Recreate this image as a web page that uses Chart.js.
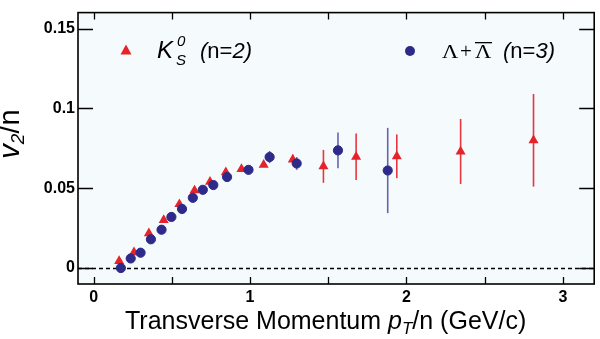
<!DOCTYPE html>
<html>
<head>
<meta charset="utf-8">
<script src="https://cdn.jsdelivr.net/npm/chart.js@4/dist/chart.umd.min.js"></script>
<style>
  html, body { margin: 0; padding: 0; background: #fff; }
  #wrap { width: 600px; height: 339px; }
</style>
</head>
<body>
<div id="wrap"><canvas id="v2Chart"></canvas></div>
<script>
// K0S (n=2) values
const kx = [0.163, 0.258, 0.353, 0.448, 0.548, 0.645, 0.744, 0.845, 0.945, 1.087, 1.273, 1.469, 1.678, 1.938, 2.346, 2.812];
const ky = [0.0044, 0.0099, 0.0217, 0.030, 0.040, 0.0486, 0.054, 0.060, 0.062, 0.0647, 0.068, 0.0637, 0.0697, 0.070, 0.073, 0.080];
const kErr = [0.001, 0.001, 0.001, 0.001, 0.001, 0.001, 0.001, 0.001, 0.001, 0.0015, 0.003, 0.0103, 0.0145, 0.0137, 0.0204, 0.029];

// Lambda + anti-Lambda (n=3)
const lx = [0.174, 0.237, 0.300, 0.366, 0.434, 0.497, 0.565, 0.634, 0.698, 0.765, 0.853, 0.99, 1.125, 1.298, 1.562, 1.88];
const ly = [0.000, 0.006, 0.0096, 0.018, 0.024, 0.032, 0.037, 0.044, 0.049, 0.052, 0.057, 0.0615, 0.0695, 0.0655, 0.0737, 0.0611];
const lErr = [0.002, 0.001, 0.001, 0.001, 0.001, 0.001, 0.001, 0.001, 0.001, 0.001, 0.001, 0.001, 0.0038, 0.004, 0.0112, 0.0267];

const xTicks = [0, 0.5, 1, 1.5, 2, 2.5, 3];
const yTicks = [0, 0.05, 0.1, 0.15];

const RED = '#e5232b';
const BLUE = '#2e2a8a';
const BLUE_ERR = '#6664ae';
const RED_ERR = '#e8363e';
const SANS = '"Liberation Sans", Arial, sans-serif';
const SERIF = '"Liberation Serif", "Times New Roman", serif';

// Error bars, frame, inward ticks, titles and legend
const decorations = {
    id: 'decorations',
    beforeDraw(chart) {
        const { ctx, chartArea: a } = chart;
        ctx.save();
        ctx.fillStyle = '#f5fafc';
        ctx.fillRect(a.left, a.top, a.right - a.left, a.bottom - a.top);
        ctx.restore();
    },
    beforeDatasetsDraw(chart) {
        const { ctx, chartArea: a, scales: { x, y } } = chart;
        ctx.save();
        // dashed zero line
        ctx.strokeStyle = '#000';
        ctx.lineWidth = 1.3;
        ctx.setLineDash([4, 3]);
        const y0 = Math.round(y.getPixelForValue(0)) + 0.5;
        ctx.beginPath();
        ctx.moveTo(a.left, y0);
        ctx.lineTo(a.right, y0);
        ctx.stroke();
        ctx.setLineDash([]);

        // error bars
        const bars = (xs, ys, es, color) => {
            ctx.strokeStyle = color;
            ctx.lineWidth = 1.6;
            xs.forEach((xv, i) => {
                const px = x.getPixelForValue(xv);
                ctx.beginPath();
                ctx.moveTo(px, y.getPixelForValue(ys[i] - es[i]));
                ctx.lineTo(px, y.getPixelForValue(ys[i] + es[i]));
                ctx.stroke();
            });
        };
        bars(kx, ky, kErr, RED_ERR);
        bars(lx, ly, lErr, BLUE_ERR);
        ctx.restore();
    },
    afterDraw(chart) {
        const { ctx, chartArea: a, scales: { x, y } } = chart;
        ctx.save();
        // frame
        ctx.strokeStyle = '#000';
        ctx.lineWidth = 1.6;
        ctx.strokeRect(a.left, a.top, a.right - a.left, a.bottom - a.top);

        // inward ticks
        ctx.lineWidth = 1.3;
        ctx.beginPath();
        xTicks.forEach(v => {
            const px = Math.round(x.getPixelForValue(v)) + 0.5;
            ctx.moveTo(px, a.bottom); ctx.lineTo(px, a.bottom - 7);
            ctx.moveTo(px, a.top); ctx.lineTo(px, a.top + 7);
        });
        yTicks.forEach(v => {
            const py = Math.round(y.getPixelForValue(v)) + 0.5;
            ctx.moveTo(a.left, py); ctx.lineTo(a.left + 15, py);
            ctx.moveTo(a.right, py); ctx.lineTo(a.right - 15, py);
        });
        ctx.stroke();

        // x title
        ctx.fillStyle = '#000';
        ctx.textBaseline = 'alphabetic';
        ctx.textAlign = 'left';
        let cx = 125;
        const by = 329;
        const put = (t, font, dy = 0) => {
            ctx.font = font;
            ctx.fillText(t, cx, by + dy);
            cx += ctx.measureText(t).width;
        };
        put('Transverse Momentum ', '25px ' + SANS);
        put('p', 'italic 25px ' + SANS);
        put('T', 'italic 17px ' + SANS, 5);
        put('/n (GeV/c)', '25px ' + SANS);

        // y title, rotated
        ctx.save();
        ctx.translate(19, 134);
        ctx.rotate(-Math.PI / 2);
        const parts = [['v', 'italic 29px ' + SANS, 0], ['2', 'italic 19px ' + SANS, 5], ['/n', '29px ' + SANS, 0]];
        let total = 0;
        parts.forEach(p => { ctx.font = p[1]; total += ctx.measureText(p[0]).width; });
        let lx0 = -total / 2;
        parts.forEach(p => {
            ctx.font = p[1];
            ctx.fillText(p[0], lx0, p[2]);
            lx0 += ctx.measureText(p[0]).width;
        });
        ctx.restore();

        // legend: K0S
        ctx.fillStyle = RED;
        ctx.beginPath();
        ctx.moveTo(126, 44.5);
        ctx.lineTo(131.5, 54.5);
        ctx.lineTo(120.5, 54.5);
        ctx.closePath();
        ctx.fill();

        ctx.fillStyle = '#000';
        ctx.font = 'italic 24px ' + SANS;
        ctx.fillText('K', 157, 58);
        ctx.font = 'italic 15px ' + SANS;
        ctx.fillText('0', 177, 46);
        ctx.fillText('S', 176, 65);
        cx = 200;
        const by2 = 58;
        const put2 = (t, font) => {
            ctx.font = font;
            ctx.fillText(t, cx, by2);
            cx += ctx.measureText(t).width;
        };
        put2('(', 'italic 22px ' + SANS);
        put2('n=', '22px ' + SANS);
        put2('2)', 'italic 22px ' + SANS);

        // legend: Lambda
        ctx.fillStyle = BLUE;
        ctx.beginPath();
        ctx.arc(410, 51, 5, 0, Math.PI * 2);
        ctx.fill();

        ctx.fillStyle = '#000';
        const lam = (px) => {
            ctx.save();
            ctx.translate(px, 58);
            ctx.scale(1.25, 1);
            ctx.font = '18px ' + SERIF;
            ctx.fillText('\u039B', 0, 0);
            ctx.restore();
        };
        lam(442);
        ctx.font = '21px ' + SERIF;
        ctx.fillText('+', 460, 58);
        lam(475);
        ctx.fillRect(475, 42, 17, 1.3);
        cx = 503;
        put2('(', 'italic 22px ' + SANS);
        put2('n=', '22px ' + SANS);
        put2('3)', 'italic 22px ' + SANS);
        ctx.restore();
    }
};

new Chart(document.getElementById('v2Chart'), {
    type: 'scatter',
    data: {
        datasets: [
            {
                label: 'Lambda',
                data: lx.map((v, i) => ({ x: v, y: ly[i] })),
                pointStyle: 'circle',
                pointRadius: 4.6,
                pointBorderWidth: 1,
                backgroundColor: BLUE,
                borderColor: BLUE,
                order: 0
            },
            {
                label: 'K0S',
                data: kx.map((v, i) => ({ x: v, y: ky[i] })),
                pointStyle: 'triangle',
                pointRadius: 5.8,
                pointBorderWidth: 0,
                backgroundColor: RED,
                borderColor: RED,
                order: 1
            }
        ]
    },
    options: {
        responsive: true,
        maintainAspectRatio: false,
        animation: false,
        layout: { padding: { top: 1, right: 2, left: 0, bottom: 0 } },
        plugins: {
            legend: { display: false },
            tooltip: { enabled: false }
        },
        scales: {
            x: {
                type: 'linear',
                min: -0.1,
                max: 3.2,
                grid: { display: false, drawTicks: false },
                border: { display: false },
                afterBuildTicks: s => { s.ticks = xTicks.map(v => ({ value: v })); },
                afterFit: s => { s.height = 55; },
                ticks: {
                    padding: 4,
                    color: '#000',
                    maxRotation: 0,
                    font: { family: SANS, size: 16, weight: 'bold' },
                    callback: v => (Number.isInteger(v) ? String(v) : '')
                }
            },
            y: {
                min: -0.01,
                max: 0.16,
                grid: { display: false, drawTicks: false },
                border: { display: false },
                afterBuildTicks: s => { s.ticks = yTicks.map(v => ({ value: v })); },
                afterFit: s => { s.width = 78; },
                ticks: {
                    padding: 3,
                    color: '#000',
                    font: { family: SANS, size: 16, weight: 'bold' },
                    callback: v => String(v)
                }
            }
        }
    },
    plugins: [decorations]
});
</script>
</body>
</html>
